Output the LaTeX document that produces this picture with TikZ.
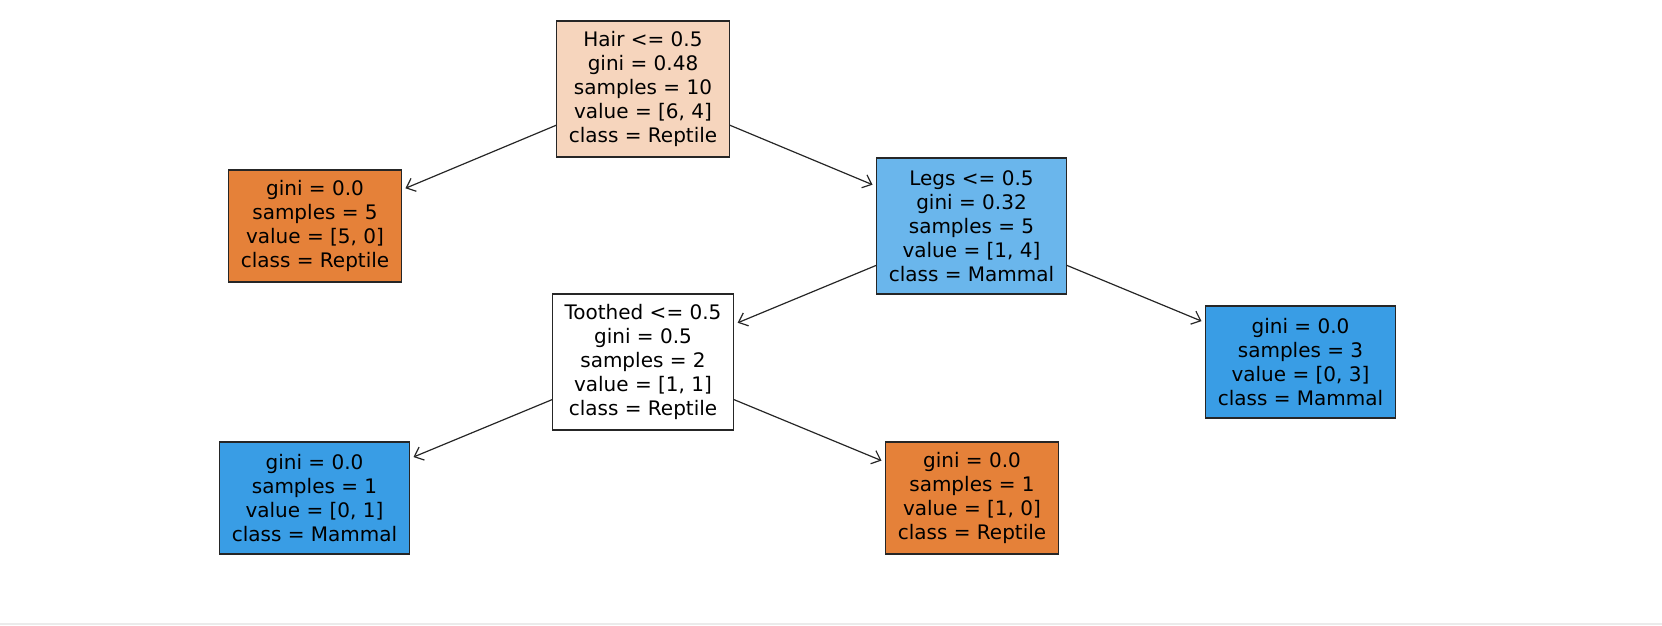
\documentclass[tikz,border=0pt]{standalone}
\usepackage{fontspec}
\setmainfont{DejaVu Sans}
\usepackage{tikz}
\usetikzlibrary{arrows.meta}
\definecolor{reptile}{HTML}{E58139}
\definecolor{mammal}{HTML}{399DE5}
\definecolor{reptilelight}{HTML}{F6D5BD}
\definecolor{mammallight}{HTML}{6AB6EC}
\definecolor{edgegray}{HTML}{262626}

\begin{document}
\begin{tikzpicture}[x=0.5pt,y=-0.5pt,>={Straight Barb[length=4pt,width=7pt]},
  treenode/.style={draw=edgegray,line width=0.6pt,align=center,inner xsep=6pt,
    font=\fontsize{10}{12}\selectfont},
  split/.style={treenode,minimum height=68pt},
  leaf/.style={treenode,minimum height=56pt},
  branch/.style={->,draw=edgegray,line width=0.6pt,shorten >=2pt}]
\useasboundingbox (0,0) rectangle (1662,626);
% The bottom rule
\draw[black!8,line width=0.8pt] (0,624) -- (1662,624);
% The split nodes
\node[split,fill=reptilelight] (hair) at (643,89)
  {Hair <= 0.5\\gini = 0.48\\samples = 10\\value = [6, 4]\\class = Reptile};
\node[split,fill=mammallight] (legs) at (971.5,226)
  {Legs <= 0.5\\gini = 0.32\\samples = 5\\value = [1, 4]\\class = Mammal};
\node[split,fill=white] (toothed) at (643,362)
  {Toothed <= 0.5\\gini = 0.5\\samples = 2\\value = [1, 1]\\class = Reptile};
% The leaves
\node[leaf,fill=reptile] (reptileA) at (315,226)
  {gini = 0.0\\samples = 5\\value = [5, 0]\\class = Reptile};
\node[leaf,fill=mammal] (mammalA) at (1300.5,362)
  {gini = 0.0\\samples = 3\\value = [0, 3]\\class = Mammal};
\node[leaf,fill=mammal] (mammalB) at (314.5,498)
  {gini = 0.0\\samples = 1\\value = [0, 1]\\class = Mammal};
\node[leaf,fill=reptile] (reptileB) at (972,498)
  {gini = 0.0\\samples = 1\\value = [1, 0]\\class = Reptile};
% The branches
\draw[branch] (hair) -- (reptileA);
\draw[branch] (hair) -- (legs);
\draw[branch] (legs) -- (toothed);
\draw[branch] (legs) -- (mammalA);
\draw[branch] (toothed) -- (mammalB);
\draw[branch] (toothed) -- (reptileB);
\end{tikzpicture}
\end{document}
